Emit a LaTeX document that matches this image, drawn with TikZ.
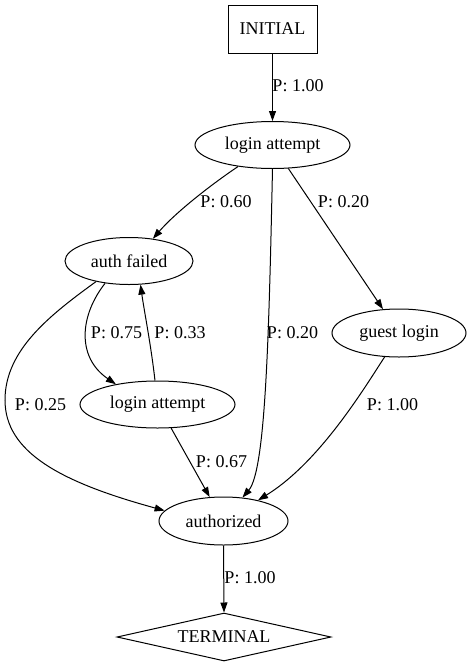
\documentclass[tikz,border=0pt]{standalone}
\usepackage{fontspec}
\setmainfont{Liberation Serif}
\usetikzlibrary{shapes.geometric,arrows.meta}
\begin{document}
\begin{tikzpicture}[x=1pt,y=-1pt,
  every node/.style={font=\fontsize{18}{20}\selectfont, inner sep=0pt},
  ell/.style={draw, ellipse, line width=1pt},
  edge/.style={draw, line width=1pt, -{Triangle[length=10pt,width=7pt]}}]
\useasboundingbox (0,0) rectangle (471,667);
\node[draw, rectangle, line width=1pt, minimum width=89pt, minimum height=48pt] (init) at (272.5,29) {INITIAL};
\node[ell, minimum width=155pt, minimum height=47pt] (login1) at (272.5,145) {login attempt};
\node[ell, minimum width=128pt, minimum height=47pt] (auth) at (129,261) {auth failed};
\node[ell, minimum width=155pt, minimum height=47pt] (login2) at (157.5,404.5) {login attempt};
\node[ell, minimum width=134pt, minimum height=48pt] (guest) at (399,333) {guest login};
\node[ell, minimum width=129pt, minimum height=48pt] (authz) at (223.5,521) {authorized};
\node[draw, diamond, aspect=4.46, line width=1pt, minimum width=214pt, minimum height=48pt] (term) at (224,637) {TERMINAL};

\path[edge] (init.south) -- (login1.north);
\path[edge] (login1.212) .. controls (212,184) and (176,212) .. (auth.43);
\path[edge] (login1.270) .. controls (269,330) and (266,470) .. (authz.51);
\path[edge] (login1.304) -- (guest.124);
\path[edge] (auth.223) .. controls (80,315) and (76,357) .. (login2.154);
\path[edge] (login2.96) .. controls (151,345) and (144,310) .. (auth.296);
\path[edge] (auth.212) .. controls (50,315) and (5,350) .. (5,400) .. controls (5,452) and (60,482) .. (authz.170);
\path[edge] (login2.300) -- (authz.120);
\path[edge] (guest.239) .. controls (365,387) and (320,462) .. (authz.31);
\path[edge] (authz.south) -- (term.north);

\node (l1) at (298,86) {P: 1.00};
\node (l2) at (226,202) {P: 0.60};
\node (l3) at (292.5,333) {P: 0.20};
\node (l4) at (343.5,202) {P: 0.20};
\node (l5) at (116.5,333) {P: 0.75};
\node (l6) at (180,333) {P: 0.33};
\node (l7) at (40.5,405) {P: 0.25};
\node (l8) at (221.5,462) {P: 0.67};
\node (l9) at (392.5,405) {P: 1.00};
\node (l10) at (250,578) {P: 1.00};
\end{tikzpicture}
\end{document}
